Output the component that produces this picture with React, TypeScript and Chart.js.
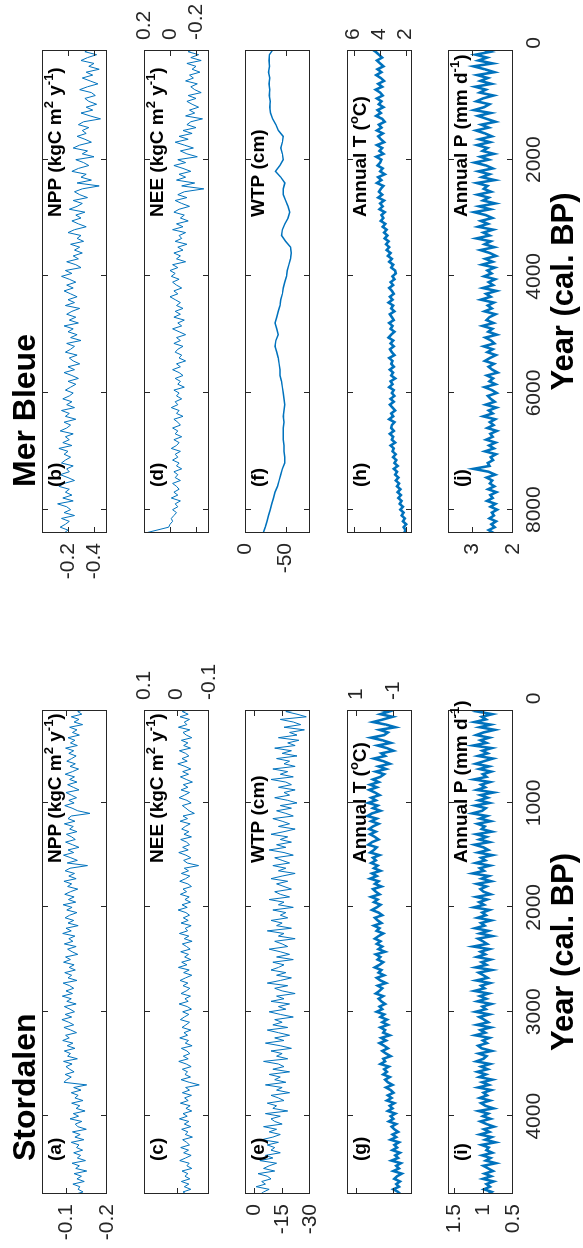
import React, { useEffect, useRef } from 'react';
import { Chart, registerables } from 'chart.js';
Chart.register(...registerables);

// ---------------- data ----------------
// Stordalen: years (cal. BP), 25-year grid
const STO_YEARS = [
  100, 125, 150, 175, 200, 225, 250, 275, 300, 325,
  350, 375, 400, 425, 450, 475, 500, 525, 550, 575,
  600, 625, 650, 675, 700, 725, 750, 775, 800, 825,
  850, 875, 900, 925, 950, 975, 1000, 1025, 1050, 1075,
  1100, 1125, 1150, 1175, 1200, 1225, 1250, 1275, 1300, 1325,
  1350, 1375, 1400, 1425, 1450, 1475, 1500, 1525, 1550, 1575,
  1600, 1625, 1650, 1675, 1700, 1725, 1750, 1775, 1800, 1825,
  1850, 1875, 1900, 1925, 1950, 1975, 2000, 2025, 2050, 2075,
  2100, 2125, 2150, 2175, 2200, 2225, 2250, 2275, 2300, 2325,
  2350, 2375, 2400, 2425, 2450, 2475, 2500, 2525, 2550, 2575,
  2600, 2625, 2650, 2675, 2700, 2725, 2750, 2775, 2800, 2825,
  2850, 2875, 2900, 2925, 2950, 2975, 3000, 3025, 3050, 3075,
  3100, 3125, 3150, 3175, 3200, 3225, 3250, 3275, 3300, 3325,
  3350, 3375, 3400, 3425, 3450, 3475, 3500, 3525, 3550, 3575,
  3600, 3625, 3650, 3675, 3700, 3725, 3750, 3775, 3800, 3825,
  3850, 3875, 3900, 3925, 3950, 3975, 4000, 4025, 4050, 4075,
  4100, 4125, 4150, 4175, 4200, 4225, 4250, 4275, 4300, 4325,
  4350, 4375, 4400, 4425, 4450, 4475, 4500, 4525, 4550, 4575,
  4600, 4625, 4650, 4675, 4700, 4725, 4750,
];

// Mer Bleue: years (cal. BP), 50-year grid
const MB_YEARS = [
  100, 150, 200, 250, 300, 350, 400, 450, 500, 550,
  600, 650, 700, 750, 800, 850, 900, 950, 1000, 1050,
  1100, 1150, 1200, 1250, 1300, 1350, 1400, 1450, 1500, 1550,
  1600, 1650, 1700, 1750, 1800, 1850, 1900, 1950, 2000, 2050,
  2100, 2150, 2200, 2250, 2300, 2350, 2400, 2450, 2500, 2550,
  2600, 2650, 2700, 2750, 2800, 2850, 2900, 2950, 3000, 3050,
  3100, 3150, 3200, 3250, 3300, 3350, 3400, 3450, 3500, 3550,
  3600, 3650, 3700, 3750, 3800, 3850, 3900, 3950, 4000, 4050,
  4100, 4150, 4200, 4250, 4300, 4350, 4400, 4450, 4500, 4550,
  4600, 4650, 4700, 4750, 4800, 4850, 4900, 4950, 5000, 5050,
  5100, 5150, 5200, 5250, 5300, 5350, 5400, 5450, 5500, 5550,
  5600, 5650, 5700, 5750, 5800, 5850, 5900, 5950, 6000, 6050,
  6100, 6150, 6200, 6250, 6300, 6350, 6400, 6450, 6500, 6550,
  6600, 6650, 6700, 6750, 6800, 6850, 6900, 6950, 7000, 7050,
  7100, 7150, 7200, 7250, 7300, 7350, 7400, 7450, 7500, 7550,
  7600, 7650, 7700, 7750, 7800, 7850, 7900, 7950, 8000, 8050,
  8100, 8150, 8200, 8250, 8300, 8350, 8400,
];

// Mer Bleue water table: 100-year grid
const MB_WTP_YEARS = [
  100, 200, 300, 400, 500, 600, 700, 800, 900, 1000,
  1100, 1200, 1300, 1400, 1500, 1600, 1700, 1800, 1900, 2000,
  2100, 2200, 2300, 2400, 2500, 2600, 2700, 2800, 2900, 3000,
  3100, 3200, 3300, 3400, 3500, 3600, 3700, 3800, 3900, 4000,
  4100, 4200, 4300, 4400, 4500, 4600, 4700, 4800, 4900, 5000,
  5100, 5200, 5300, 5400, 5500, 5600, 5700, 5800, 5900, 6000,
  6100, 6200, 6300, 6400, 6500, 6600, 6700, 6800, 6900, 7000,
  7100, 7200, 7300, 7400, 7500, 7600, 7700, 7800, 7900, 8000,
  8100, 8200, 8300, 8400,
];

const STO_NPP = [
  -0.150, -0.128, -0.138, -0.112, -0.131, -0.119, -0.140, -0.108, -0.126, -0.115,
  -0.132, -0.104, -0.121, -0.110, -0.127, -0.098, -0.118, -0.106, -0.124, -0.113,
  -0.101, -0.122, -0.109, -0.130, -0.115, -0.097, -0.120, -0.108, -0.126, -0.103,
  -0.117, -0.131, -0.099, -0.112, -0.125, -0.106, -0.119, -0.096, -0.114, -0.128,
  -0.158, -0.112, -0.104, -0.121, -0.095, -0.117, -0.108, -0.126, -0.100, -0.113,
  -0.122, -0.098, -0.115, -0.131, -0.104, -0.118, -0.093, -0.111, -0.127, -0.102,
  -0.152, -0.109, -0.097, -0.120, -0.106, -0.124, -0.094, -0.113, -0.103, -0.128,
  -0.110, -0.096, -0.119, -0.105, -0.123, -0.092, -0.114, -0.101, -0.126, -0.108,
  -0.097, -0.118, -0.104, -0.129, -0.099, -0.112, -0.091, -0.121, -0.106, -0.116,
  -0.095, -0.124, -0.103, -0.114, -0.128, -0.098, -0.110, -0.093, -0.119, -0.107,
  -0.122, -0.096, -0.113, -0.104, -0.126, -0.092, -0.108, -0.118, -0.099, -0.115,
  -0.090, -0.112, -0.101, -0.124, -0.095, -0.109, -0.120, -0.097, -0.113, -0.089,
  -0.106, -0.118, -0.094, -0.111, -0.125, -0.098, -0.107, -0.091, -0.116, -0.102,
  -0.121, -0.095, -0.110, -0.103, -0.127, -0.093, -0.114, -0.099, -0.108, -0.119,
  -0.097, -0.112, -0.101, -0.094, -0.150, -0.118, -0.136, -0.112, -0.129, -0.121,
  -0.141, -0.113, -0.133, -0.124, -0.146, -0.117, -0.130, -0.109, -0.138, -0.122,
  -0.128, -0.149, -0.115, -0.134, -0.121, -0.143, -0.112, -0.131, -0.125, -0.140,
  -0.118, -0.135, -0.127, -0.147, -0.114, -0.132, -0.123, -0.150, -0.119, -0.137,
  -0.126, -0.144, -0.116, -0.133, -0.129, -0.141, -0.120,
];

const STO_NEE = [
  -0.045, -0.018, -0.036, -0.011, -0.040, -0.024, -0.032, -0.006, -0.041, -0.020,
  -0.030, -0.047, -0.015, -0.035, -0.022, -0.043, -0.009, -0.028, -0.038, -0.017,
  -0.033, -0.004, -0.026, -0.044, -0.019, -0.037, -0.012, -0.030, -0.049, -0.021,
  -0.035, -0.014, -0.040, -0.025, -0.008, -0.032, -0.045, -0.018, -0.029, -0.039,
  -0.055, -0.020, -0.034, -0.011, -0.042, -0.027, -0.016, -0.038, -0.023, -0.046,
  -0.013, -0.031, -0.040, -0.019, -0.036, -0.007, -0.029, -0.044, -0.022, -0.033,
  -0.068, -0.024, -0.037, -0.015, -0.041, -0.028, -0.010, -0.035, -0.046, -0.020,
  -0.031, -0.012, -0.039, -0.026, -0.043, -0.017, -0.033, -0.005, -0.029, -0.040,
  -0.021, -0.036, -0.014, -0.045, -0.027, -0.034, -0.009, -0.038, -0.024, -0.048,
  -0.018, -0.031, -0.042, -0.013, -0.037, -0.025, -0.044, -0.016, -0.032, -0.006,
  -0.039, -0.022, -0.047, -0.028, -0.011, -0.035, -0.020, -0.041, -0.030, -0.014,
  -0.043, -0.026, -0.036, -0.008, -0.033, -0.046, -0.019, -0.038, -0.024, -0.012,
  -0.040, -0.029, -0.017, -0.044, -0.023, -0.034, -0.010, -0.037, -0.027, -0.048,
  -0.015, -0.032, -0.041, -0.021, -0.036, -0.007, -0.030, -0.045, -0.018, -0.034,
  -0.026, -0.043, -0.014, -0.039, -0.070, -0.028, -0.040, -0.018, -0.046, -0.025,
  -0.036, -0.012, -0.042, -0.029, -0.047, -0.020, -0.033, -0.009, -0.038, -0.024,
  -0.044, -0.016, -0.035, -0.027, -0.049, -0.019, -0.031, -0.040, -0.013, -0.037,
  -0.022, -0.045, -0.028, -0.010, -0.039, -0.032, -0.047, -0.017, -0.035, -0.026,
  -0.041, -0.015, -0.038, -0.024, -0.044, -0.020, -0.033,
];

const STO_WTP = [
  -26, -17, -23, -28, -14, -21, -25, -16, -27, -19,
  -23, -13, -24, -18, -22, -11, -20, -15, -23, -12,
  -19, -16, -22, -10, -18, -14, -21, -9, -17, -20,
  -13, -22, -16, -19, -11, -18, -23, -14, -20, -12,
  -17, -21, -10, -15, -19, -13, -22, -16, -9, -18,
  -14, -20, -12, -17, -8, -16, -21, -11, -15, -19,
  -10, -17, -13, -22, -15, -9, -18, -12, -16, -20,
  -11, -14, -19, -8, -16, -13, -21, -10, -17, -14,
  -18, -9, -15, -12, -20, -7, -16, -13, -22, -11,
  -15, -18, -8, -14, -19, -12, -21, -10, -16, -13,
  -9, -17, -12, -20, -14, -7, -18, -11, -15, -22,
  -12, -16, -9, -19, -13, -17, -8, -14, -21, -11,
  -15, -10, -18, -7, -13, -19, -11, -16, -6, -14,
  -20, -9, -15, -12, -18, -5, -13, -16, -10, -19,
  -8, -14, -11, -17, -6, -15, -12, -19, -9, -13,
  -16, -7, -12, -10, -18, -6, -14, -9, -11, -15,
  -5, -12, -8, -14, -10, -4, -13, -7, -11, -9,
  -14, -6, -10, -3, -12, -8, -5, -11, -2, -7,
  -9, -4, -6, -1, -8, -5, -3,
];

const STO_T = [
  -0.1, -0.75, -0.3, -0.95, -0.45, 0.1, -0.6, -1.1, -0.25, -0.7,
  -0.5, 0.2, -0.4, -0.85, -0.15, -0.65, -1.0, -0.35, -0.55, 0.05,
  -0.45, -0.8, -0.2, -0.6, -0.05, -0.5, -0.3, 0.1, -0.2, 0.25,
  -0.1, 0.3, 0.0, -0.25, 0.2, -0.05, 0.35, -0.15, 0.1, -0.3,
  0.15, 0.4, -0.1, 0.2, -0.2, 0.1, 0.3, -0.05, 0.25, 0.0,
  -0.2, 0.15, 0.35, -0.1, 0.05, 0.25, -0.25, 0.1, -0.05, 0.2,
  -0.15, 0.05, -0.3, 0.15, -0.1, 0.25, -0.2, 0.0, -0.35, 0.1,
  -0.05, -0.25, 0.2, -0.15, 0.05, -0.3, -0.1, 0.15, -0.2, -0.4,
  0.0, -0.15, -0.35, 0.05, -0.25, -0.1, -0.45, -0.2, 0.0, -0.3,
  -0.1, -0.4, -0.2, -0.55, -0.05, -0.3, -0.15, -0.45, -0.25, 0.0,
  -0.35, -0.2, -0.5, -0.1, -0.3, -0.6, -0.15, -0.4, -0.25, -0.05,
  -0.45, -0.2, -0.35, -0.55, -0.25, -0.4, -0.1, -0.5, -0.3, -0.65,
  -0.4, -0.7, -0.3, -0.55, -0.45, -0.8, -0.35, -0.6, -0.25, -0.5,
  -0.7, -0.4, -0.6, -0.85, -0.45, -0.55, -0.3, -0.75, -0.5, -0.65,
  -0.45, -0.8, -0.55, -0.7, -0.95, -0.6, -0.85, -1.0, -0.7, -0.9,
  -0.65, -1.05, -0.8, -0.95, -0.7, -1.1, -0.85, -1.0, -0.75, -1.15,
  -0.9, -1.05, -1.25, -0.95, -1.15, -0.85, -1.3, -1.05, -1.2, -0.95,
  -1.35, -1.1, -1.25, -0.9, -1.4, -1.15, -1.3, -1.0, -1.45, -1.2,
  -1.05, -1.35, -1.15, -1.3, -1.0, -1.25, -1.4,
];

const STO_P = [
  0.92, 1.1, 0.85, 1.03, 0.96, 1.15, 0.88, 1.06, 0.81, 1.0,
  1.12, 0.9, 1.05, 0.95, 1.17, 0.86, 1.02, 0.93, 1.09, 0.84,
  0.99, 1.13, 0.91, 1.07, 0.87, 1.01, 0.95, 1.16, 0.89, 1.04,
  0.97, 1.11, 0.83, 1.05, 0.93, 1.08, 0.9, 1.14, 0.96, 1.02,
  1.19, 0.94, 1.06, 0.88, 1.1, 0.98, 1.03, 0.86, 1.12, 0.95,
  1.07, 0.9, 1.15, 1.0, 0.92, 1.09, 0.85, 1.04, 0.97, 1.13,
  0.89, 1.06, 0.99, 1.18, 0.91, 1.03, 0.87, 1.11, 0.95, 1.05,
  1.0, 0.88, 1.12, 0.94, 1.07, 0.99, 1.16, 0.9, 1.02, 0.96,
  1.1, 0.87, 1.04, 0.98, 1.14, 0.92, 1.06, 0.85, 1.09, 1.01,
  0.94, 1.17, 0.9, 1.05, 0.97, 1.11, 0.88, 1.03, 0.95, 1.13,
  0.86, 1.08, 1.0, 0.93, 1.12, 0.89, 1.04, 0.98, 1.15, 0.91,
  1.06, 0.95, 1.1, 0.87, 1.02, 0.96, 1.13, 0.9, 1.07, 0.99,
  0.92, 1.11, 0.88, 1.05, 0.97, 1.14, 0.9, 1.01, 0.94, 1.09,
  1.03, 0.86, 1.08, 0.95, 1.0, 1.12, 0.89, 1.04, 0.93, 1.1,
  0.96, 1.07, 0.85, 1.02, 0.91, 1.09, 0.87, 1.0, 0.94, 1.06,
  0.89, 1.04, 0.97, 0.83, 1.08, 0.92, 1.01, 0.88, 1.05, 0.95,
  0.82, 0.99, 0.9, 1.06, 0.86, 0.97, 0.8, 1.03, 0.91, 0.95,
  0.85, 1.02, 0.88, 0.96, 0.79, 1.0, 0.92, 0.84, 0.98, 0.87,
  1.01, 0.83, 0.95, 0.89, 0.99, 0.86, 0.93,
];

const MB_NPP = [
  -0.38, -0.33, -0.42, -0.35, -0.30, -0.40, -0.36, -0.44, -0.34, -0.39,
  -0.31, -0.37, -0.43, -0.35, -0.29, -0.38, -0.41, -0.33, -0.36, -0.42,
  -0.34, -0.39, -0.30, -0.37, -0.45, -0.32, -0.28, -0.36, -0.31, -0.34,
  -0.27, -0.33, -0.38, -0.29, -0.24, -0.35, -0.31, -0.40, -0.26, -0.32,
  -0.36, -0.28, -0.23, -0.34, -0.30, -0.38, -0.27, -0.44, -0.31, -0.25,
  -0.29, -0.35, -0.24, -0.31, -0.27, -0.21, -0.33, -0.26, -0.30, -0.23,
  -0.28, -0.34, -0.25, -0.20, -0.30, -0.27, -0.32, -0.22, -0.29, -0.25,
  -0.31, -0.24, -0.28, -0.19, -0.26, -0.30, -0.18, -0.23, -0.15, -0.21,
  -0.26, -0.19, -0.24, -0.17, -0.22, -0.27, -0.20, -0.25, -0.18, -0.29,
  -0.23, -0.19, -0.26, -0.21, -0.28, -0.17, -0.24, -0.20, -0.27, -0.22,
  -0.30, -0.19, -0.25, -0.22, -0.18, -0.27, -0.21, -0.24, -0.29, -0.20,
  -0.25, -0.17, -0.23, -0.28, -0.20, -0.26, -0.22, -0.18, -0.24, -0.21,
  -0.16, -0.23, -0.19, -0.25, -0.15, -0.21, -0.18, -0.26, -0.17, -0.22,
  -0.19, -0.14, -0.24, -0.18, -0.21, -0.16, -0.23, -0.13, -0.20, -0.17,
  -0.22, -0.18, -0.15, -0.24, -0.19, -0.21, -0.14, -0.20, -0.25, -0.17,
  -0.13, -0.21, -0.18, -0.23, -0.16, -0.24, -0.12, -0.19, -0.22, -0.17,
  -0.25, -0.15, -0.21, -0.18, -0.14, -0.20, -0.17,
];

const MB_NEE = [
  -0.19, -0.14, -0.22, -0.16, -0.24, -0.13, -0.20, -0.17, -0.23, -0.15,
  -0.18, -0.12, -0.21, -0.16, -0.19, -0.24, -0.14, -0.20, -0.13, -0.17,
  -0.22, -0.15, -0.19, -0.12, -0.25, -0.16, -0.13, -0.20, -0.10, -0.17,
  -0.07, -0.14, -0.04, -0.11, -0.18, -0.08, -0.13, -0.21, -0.06, -0.12,
  -0.03, -0.10, -0.16, -0.07, -0.12, -0.05, -0.19, -0.09, -0.26, -0.11,
  -0.06, -0.13, -0.04, -0.09, -0.15, -0.07, -0.03, -0.11, -0.08, -0.14,
  -0.05, -0.10, -0.02, -0.12, -0.07, -0.09, -0.04, -0.13, -0.06, -0.10,
  -0.03, -0.08, -0.05, -0.12, -0.02, -0.06, 0.00, -0.04, -0.01, -0.07,
  -0.02, -0.05, -0.09, -0.03, -0.06, 0.00, -0.04, -0.08, -0.05, -0.10,
  -0.04, -0.08, -0.03, -0.11, -0.06, -0.09, -0.02, -0.07, -0.12, -0.05,
  -0.08, -0.03, -0.10, -0.06, -0.04, -0.09, -0.07, -0.12, -0.05, -0.08,
  -0.02, -0.07, -0.10, -0.04, -0.08, -0.06, -0.11, -0.03, -0.07, -0.05,
  -0.09, -0.04, -0.06, -0.01, -0.07, -0.05, -0.10, -0.03, -0.06, -0.08,
  -0.02, -0.06, -0.04, -0.09, -0.03, -0.07, -0.05, -0.01, -0.08, -0.04,
  -0.06, -0.02, -0.07, -0.05, -0.09, -0.03, -0.06, -0.04, -0.08, -0.02,
  -0.05, -0.07, -0.03, -0.06, -0.01, -0.08, -0.04, -0.06, -0.02, -0.05,
  -0.03, -0.01, -0.02, 0.00, 0.01, 0.10, 0.19,
];

const MB_WTP = [
  -35, -30, -29.5, -30, -29, -30.5, -29.5, -30.5, -30, -31,
  -30.5, -31.5, -34, -38, -41, -47, -46, -44, -46, -47,
  -43, -37.5, -44, -49, -47, -47, -50, -53, -55, -53,
  -49, -46, -45, -50, -56, -57, -56, -54, -52, -51,
  -49, -47, -46, -44, -43, -41, -39, -37, -39, -41,
  -38, -37, -39, -41, -42, -43, -43, -45, -46, -47,
  -48, -49, -48, -47, -48, -47, -47, -47, -48, -48,
  -49, -49, -46, -44, -42, -40, -37, -35, -33, -31,
  -29, -27, -25, -22.5,
];

const MB_T = [
  4.6, 4.3, 4.05, 3.8, 4.2, 3.95, 3.7, 4.15, 3.85, 4.25,
  3.9, 3.65, 4.1, 3.8, 4.3, 3.95, 3.75, 4.2, 3.85, 4.05,
  3.7, 4.15, 3.9, 4.25, 3.8, 3.6, 4.05, 3.85, 4.2, 3.75,
  4.1, 3.9, 3.65, 4.2, 3.8, 4.0, 3.7, 4.25, 3.85, 3.95,
  4.15, 3.75, 3.95, 3.6, 4.1, 3.85, 4.2, 3.7, 3.9, 4.05,
  3.8, 4.1, 3.65, 3.95, 3.75, 4.0, 3.6, 3.85, 3.7, 3.9,
  3.55, 3.75, 3.45, 3.65, 3.4, 3.6, 3.3, 3.5, 3.25, 3.45,
  3.15, 3.35, 3.05, 3.25, 2.95, 3.1, 2.8, 2.75, 3.0, 2.85,
  3.15, 2.95, 3.25, 3.05, 2.9, 3.2, 3.0, 3.3, 2.95, 3.1,
  2.85, 3.2, 3.05, 2.9, 3.25, 3.0, 3.15, 2.85, 3.1, 3.3,
  2.95, 3.15, 2.9, 3.2, 3.05, 2.85, 3.25, 3.0, 3.1, 2.9,
  3.2, 2.95, 3.1, 2.8, 3.15, 3.0, 3.25, 2.9, 3.05, 2.85,
  3.15, 2.9, 3.2, 3.0, 2.8, 3.1, 2.95, 3.25, 2.85, 3.05,
  3.1, 2.9, 3.2, 2.95, 3.05, 2.8, 3.15, 2.9, 3.0, 2.75,
  2.95, 2.7, 2.85, 2.6, 2.9, 2.65, 2.8, 2.55, 2.75, 2.5,
  2.65, 2.4, 2.6, 2.35, 2.55, 2.3, 2.45, 2.2, 2.4, 2.15,
  2.3, 2.05, 2.2, 1.95, 2.15, 2.0, 2.1,
];

const MB_P = [
  2.78, 2.55, 2.92, 2.64, 2.85, 2.5, 2.97, 2.7, 2.46, 2.88,
  2.62, 2.8, 2.53, 2.93, 2.67, 2.82, 2.48, 2.74, 2.9, 2.58,
  2.71, 2.96, 2.55, 2.86, 2.65, 2.43, 2.78, 2.6, 2.91, 2.69,
  2.52, 2.83, 2.57, 2.88, 2.63, 2.75, 2.47, 2.8, 2.6, 2.94,
  2.66, 2.5, 2.85, 2.58, 2.77, 2.45, 2.89, 2.63, 2.72, 2.54,
  2.87, 2.6, 2.74, 2.44, 2.83, 2.56, 2.95, 2.67, 2.51, 2.79,
  2.62, 2.86, 2.49, 2.73, 2.58, 2.9, 2.55, 2.7, 2.46, 2.8,
  2.57, 2.42, 2.68, 2.5, 2.76, 2.45, 2.63, 2.53, 2.71, 2.44,
  2.6, 2.49, 2.74, 2.41, 2.66, 2.55, 2.79, 2.47, 2.62, 2.52,
  2.7, 2.43, 2.58, 2.65, 2.48, 2.75, 2.51, 2.61, 2.4, 2.68,
  2.54, 2.46, 2.72, 2.5, 2.63, 2.42, 2.57, 2.69, 2.47, 2.6,
  2.51, 2.38, 2.64, 2.49, 2.58, 2.43, 2.7, 2.52, 2.4, 2.62,
  2.55, 2.45, 2.67, 2.41, 2.6, 2.5, 2.73, 2.44, 2.57, 2.48,
  2.63, 2.4, 2.56, 2.5, 2.66, 2.43, 2.59, 2.47, 2.69, 2.42,
  2.55, 2.49, 2.62, 2.58, 2.97, 2.6, 2.44, 2.65, 2.51, 2.57,
  2.46, 2.61, 2.41, 2.56, 2.5, 2.64, 2.43, 2.55, 2.39, 2.52,
  2.47, 2.58, 2.42, 2.53, 2.45, 2.6, 2.48,
];

// tick values
const STO_XTICKS = [0, 1000, 2000, 3000, 4000];
const MB_XTICKS = [0, 2000, 4000, 6000, 8000];
const STO_NPP_TICKS = [-0.2, -0.1];
const STO_NEE_TICKS = [-0.1, 0, 0.1];
const STO_WTP_TICKS = [-30, -15, 0];
const STO_T_TICKS = [-1, 1];
const STO_P_TICKS = [0.5, 1, 1.5];
const MB_NPP_TICKS = [-0.4, -0.2];
const MB_NEE_TICKS = [-0.2, 0, 0.2];
const MB_WTP_TICKS = [-50, 0];
const MB_T_TICKS = [2, 4, 6];
const MB_P_TICKS = [2, 3];

// labels
type Seg = { t: string; sup?: boolean };
const NPP_LABEL: Seg[] = [{ t: 'NPP (kgC m' }, { t: '2', sup: true }, { t: ' y' }, { t: '-1', sup: true }, { t: ')' }];
const NEE_LABEL: Seg[] = [{ t: 'NEE (kgC m' }, { t: '2', sup: true }, { t: ' y' }, { t: '-1', sup: true }, { t: ')' }];
const WTP_LABEL: Seg[] = [{ t: 'WTP (cm)' }];
const T_LABEL: Seg[] = [{ t: 'Annual T (' }, { t: 'o', sup: true }, { t: 'C)' }];
const P_LABEL: Seg[] = [{ t: 'Annual P (mm d' }, { t: '-1', sup: true }, { t: ')' }];
const X_TITLE = 'Year (cal. BP)';

// ---------------- layout (original, unrotated orientation) ----------------
const FIG_W = 1248;
const FIG_H = 583;
const ROW_TOPS = [42, 144, 245, 347, 448];
const PLOT_H = 65;
const PAD_X = 50;
const SITES: Record<string, any> = {
  sto: { left: 54, width: 484, xmin: 110, xmax: 4745, xticks: STO_XTICKS, title: 'Stordalen', textOff: 331, letterOff: 33 },
  mb: { left: 715, width: 483, xmin: 120, xmax: 8400, xticks: MB_XTICKS, title: 'Mer Bleue', textOff: 316, letterOff: 46 },
};

const BLUE = '#0072BD';
const AXIS = '#262626';
const FONT = '"Liberation Sans", Arial, Helvetica, sans-serif';

type PanelSpec = {
  site: 'sto' | 'mb'; row: number; letter: string; years: number[]; values: number[];
  ymin: number; ymax: number; yticks: number[]; side: 'left' | 'right'; label: Seg[];
  lw: number;
};

const PANELS: PanelSpec[] = [
  { site: 'sto', row: 0, letter: '(a)', years: STO_YEARS, values: STO_NPP, ymin: -0.2, ymax: -0.04, yticks: STO_NPP_TICKS, side: 'left', label: NPP_LABEL, lw: 1 },
  { site: 'sto', row: 1, letter: '(c)', years: STO_YEARS, values: STO_NEE, ymin: -0.1, ymax: 0.1, yticks: STO_NEE_TICKS, side: 'right', label: NEE_LABEL, lw: 1 },
  { site: 'sto', row: 2, letter: '(e)', years: STO_YEARS, values: STO_WTP, ymin: -30, ymax: 5, yticks: STO_WTP_TICKS, side: 'left', label: WTP_LABEL, lw: 1 },
  { site: 'sto', row: 3, letter: '(g)', years: STO_YEARS, values: STO_T, ymin: -2, ymax: 1.5, yticks: STO_T_TICKS, side: 'right', label: T_LABEL, lw: 2.6 },
  { site: 'sto', row: 4, letter: '(i)', years: STO_YEARS, values: STO_P, ymin: 0.5, ymax: 1.6, yticks: STO_P_TICKS, side: 'left', label: P_LABEL, lw: 2.6 },
  { site: 'mb', row: 0, letter: '(b)', years: MB_YEARS, values: MB_NPP, ymin: -0.5, ymax: 0, yticks: MB_NPP_TICKS, side: 'left', label: NPP_LABEL, lw: 1 },
  { site: 'mb', row: 1, letter: '(d)', years: MB_YEARS, values: MB_NEE, ymin: -0.3, ymax: 0.2, yticks: MB_NEE_TICKS, side: 'right', label: NEE_LABEL, lw: 1 },
  { site: 'mb', row: 2, letter: '(f)', years: MB_WTP_YEARS, values: MB_WTP, ymin: -80, ymax: 0, yticks: MB_WTP_TICKS, side: 'left', label: WTP_LABEL, lw: 1.5 },
  { site: 'mb', row: 3, letter: '(h)', years: MB_YEARS, values: MB_T, ymin: 1.5, ymax: 6.5, yticks: MB_T_TICKS, side: 'right', label: T_LABEL, lw: 2.6 },
  { site: 'mb', row: 4, letter: '(j)', years: MB_YEARS, values: MB_P, ymin: 2, ymax: 3.6, yticks: MB_P_TICKS, side: 'left', label: P_LABEL, lw: 2.6 },
];

function drawRich(ctx: CanvasRenderingContext2D, segs: Seg[], x: number, y: number, size: number) {
  let cx = x;
  ctx.textBaseline = 'alphabetic';
  ctx.textAlign = 'left';
  for (const s of segs) {
    const fs = s.sup ? Math.round(size * 0.68) : size;
    ctx.font = `bold ${fs}px ${FONT}`;
    ctx.fillText(s.t, cx, s.sup ? y - size * 0.42 : y);
    cx += ctx.measureText(s.t).width;
  }
}

const matlabBox = {
  id: 'matlabBox',
  afterDraw(chart: any) {
    const p = chart.options.plugins.matlabBox;
    if (!p) return;
    const { ctx, chartArea: a, scales } = chart;
    ctx.save();
    ctx.strokeStyle = AXIS;
    ctx.lineWidth = 1;
    ctx.strokeRect(a.left + 0.5, a.top + 0.5, a.right - a.left - 1, a.bottom - a.top - 1);
    const tl = 6;
    ctx.beginPath();
    for (const v of p.yticks) {
      const y = Math.round(scales.y.getPixelForValue(v)) + 0.5;
      if (y <= a.top + 1 || y >= a.bottom - 1) continue;
      ctx.moveTo(a.left, y); ctx.lineTo(a.left + tl, y);
      ctx.moveTo(a.right, y); ctx.lineTo(a.right - tl, y);
    }
    for (const v of p.xticks) {
      const x = Math.round(scales.x.getPixelForValue(v)) + 0.5;
      if (x <= a.left + 1 || x >= a.right - 1) continue;
      ctx.moveTo(x, a.top); ctx.lineTo(x, a.top + tl);
      ctx.moveTo(x, a.bottom); ctx.lineTo(x, a.bottom - tl);
    }
    ctx.stroke();
    ctx.fillStyle = '#000';
    drawRich(ctx, p.label, a.left + p.textOff, a.top + 19, 19);
    ctx.font = `bold 19px ${FONT}`;
    ctx.fillText(p.letter, a.left + p.letterOff, a.top + 19);
    if (p.title) {
      ctx.font = `bold 32px ${FONT}`;
      ctx.fillText(p.title, a.left + p.letterOff, a.top - 7);
    }
    ctx.restore();
  },
};

function Panel({ spec }: { spec: PanelSpec }) {
  const ref = useRef<HTMLCanvasElement>(null);
  const site = SITES[spec.site];
  const isBottom = spec.row === 4;
  const isTop = spec.row === 0;
  const padT = isTop ? ROW_TOPS[0] : 30;
  const padB = isBottom ? FIG_H - (ROW_TOPS[4] + PLOT_H) : 30;
  const W = site.width + 2 * PAD_X;
  const H = PLOT_H + padT + padB;
  const left = site.left - PAD_X;
  const top = ROW_TOPS[spec.row] - padT;

  useEffect(() => {
    const data = spec.years.map((x, i) => ({ x, y: spec.values[i] }));
    const tickFont = { family: FONT, size: 21 };
    const chart = new Chart(ref.current as HTMLCanvasElement, {
      type: 'line',
      data: {
        datasets: [{
          data, borderColor: BLUE, borderWidth: spec.lw, pointRadius: 0, tension: 0, fill: false,
          borderJoinStyle: 'miter',
        }],
      },
      options: {
        animation: false,
        responsive: false,
        maintainAspectRatio: false,
        devicePixelRatio: 1,
        events: [],
        layout: {
          padding: {
            top: padT,
            bottom: 0,
            left: spec.side === 'right' ? PAD_X : 0,
            right: spec.side === 'left' ? PAD_X : 0,
          },
        },
        plugins: {
          legend: { display: false },
          tooltip: { enabled: false },
          matlabBox: {
            yticks: spec.yticks, xticks: site.xticks, label: spec.label, letter: spec.letter,
            textOff: site.textOff, letterOff: site.letterOff, title: isTop ? site.title : null,
          },
        } as any,
        scales: {
          x: {
            type: 'linear', min: site.xmin, max: site.xmax, reverse: true, bounds: 'data',
            display: true,
            grid: { display: false, drawTicks: false },
            border: { display: false },
            ticks: {
              display: isBottom,
              autoSkip: false, maxRotation: 0, minRotation: 0, padding: 9, color: AXIS, font: tickFont,
              callback: (v: any) => String(v),
            },
            title: {
              display: isBottom, text: X_TITLE, color: '#000',
              font: { family: FONT, size: 31, weight: 'bold' }, padding: { top: 0, bottom: 0 },
            },
            afterBuildTicks: (s: any) => { s.ticks = site.xticks.map((v: number) => ({ value: v })); },
            afterFit: (s: any) => { s.height = padB; s.paddingLeft = 0; s.paddingRight = 0; },
          },
          y: {
            type: 'linear', min: spec.ymin, max: spec.ymax, bounds: 'data', position: spec.side,
            grid: { display: false, drawTicks: false },
            border: { display: false },
            ticks: {
              autoSkip: false, padding: 10, color: AXIS, font: tickFont,
              callback: (v: any) => String(v),
            },
            afterBuildTicks: (s: any) => { s.ticks = spec.yticks.map((v: number) => ({ value: v })); },
            afterFit: (s: any) => { s.width = PAD_X; s.paddingTop = 0; s.paddingBottom = 0; },
          },
        },
      } as any,
      plugins: [matlabBox],
    });
    return () => chart.destroy();
  }, []);

  return (
    <canvas
      ref={ref}
      width={W}
      height={H}
      style={{ position: 'absolute', left, top, width: W, height: H }}
    />
  );
}

export default function App() {
  useEffect(() => {
    document.body.style.margin = '0';
    document.body.style.overflow = 'hidden';
  }, []);
  return (
    <div
      style={{
        position: 'absolute', left: 0, top: 0, width: FIG_W, height: FIG_H,
        background: '#fff', transformOrigin: '0 0',
        transform: `translate(0px, ${FIG_W}px) rotate(-90deg)`,
      }}
    >
      {PANELS.map((p) => (
        <Panel key={p.letter} spec={p} />
      ))}
    </div>
  );
}
